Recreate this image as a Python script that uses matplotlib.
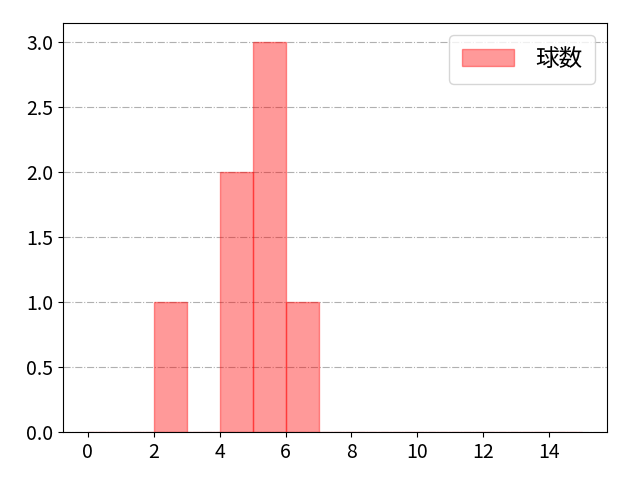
import matplotlib
matplotlib.use("Agg")
import matplotlib.pyplot as plt

plt.rcParams['font.family'] = ['Noto Sans CJK JP', 'DejaVu Sans']

# observed values (per-game pitch counts)
values = [2, 4, 4, 5, 5, 5, 6]
bin_edges = list(range(0, 16))
label = "球数"

fig = plt.figure(figsize=(6.4, 4.8), dpi=100)
ax = fig.add_axes([63/640, 1-432/480, (607-63)/640, (432-23)/480])
ax.hist(values, bins=bin_edges, color="red", alpha=0.4, edgecolor="red", label=label)
ax.grid(axis="y", linestyle="-.", color="#b0b0b0")
ax.set_axisbelow(True)
ax.set_xticks(range(0, 16, 2))
ax.legend(loc="upper right", fontsize=17, handlelength=2.2, handletextpad=0.9,
          borderpad=0.55)
ax.tick_params(labelsize=14)
fig.savefig("out.png")
